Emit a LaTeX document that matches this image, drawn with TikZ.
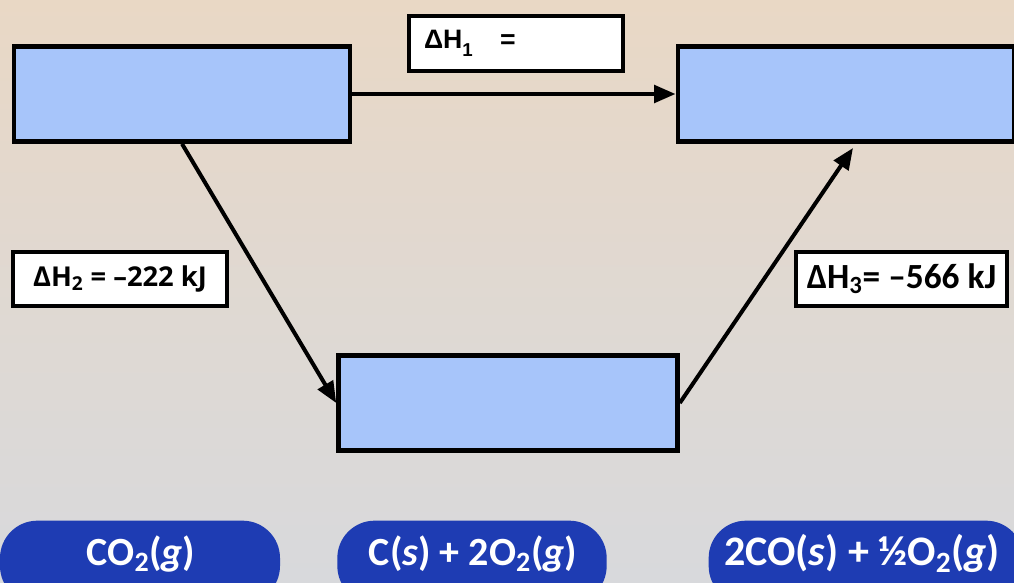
\documentclass[tikz,border=0pt]{standalone}
\usepackage{fontspec}
\setmainfont{Open Sans}
\newfontfamily\calib{Carlito}
\newfontfamily\arialf{Liberation Sans}
\usetikzlibrary{arrows.meta}
\definecolor{boxblue}{HTML}{A7C5FA}
\definecolor{pillblue}{HTML}{1E3CB3}
\definecolor{bgtop}{HTML}{E9D8C5}
\definecolor{bgbot}{HTML}{D8D9DC}
\tikzset{
  stage/.style={draw=black, line width=3.7pt, fill=boxblue, inner sep=0pt},
  lab/.style={draw=black, line width=3pt, fill=white, inner sep=0pt},
  pill/.style={fill=pillblue, rounded corners=28pt, inner sep=0pt},
  pilltext/.style={text=white, anchor=base, inner sep=0pt, font=\calib\bfseries\fontsize{30}{32}\selectfont},
  conn/.style={line width=3pt, -{Triangle[length=16pt,width=13pt]}}
}
\begin{document}
\begin{tikzpicture}[x=0.75pt,y=-0.75pt]
\useasboundingbox (0,0) rectangle (1014,582);
\clip (0,0) rectangle (1014,582);
\shade[top color=bgtop, bottom color=bgbot, middle color=bgbot!55!bgtop] (0,0) rectangle (1014,582);
% stage boxes
\node[stage, minimum width=252pt, minimum height=71pt] (A) at (182,94) {};
\node[stage, minimum width=252pt, minimum height=71pt] (B) at (846,94) {};
\node[stage, minimum width=254pt, minimum height=71pt] (C) at (508,403) {};
% label boxes
\node[lab, minimum width=160pt, minimum height=41pt, font=\arialf\bfseries\fontsize{20}{22}\selectfont, text width=138pt, align=left] (h1) at (516,43.5) {ΔH\raisebox{-0.3ex}{\textsubscript{1}}\ \ \ =};
\node[lab, minimum width=160pt, minimum height=41pt, font=\bfseries\fontsize{20.5}{22}\selectfont] (h2) at (120,279) {ΔH\textsubscript{2} = –222 kJ};
\node[lab, minimum width=158pt, minimum height=41pt, font=\calib\bfseries\fontsize{26.5}{28}\selectfont] (h3) at (901.5,279) {ΔH\textsubscript{3}= –566 kJ};
% connectors
\coordinate (bt) at (853,148);
\draw[conn] (A.east) -- (B.west);
\draw[conn] (A.south) -- (C.west);
\draw[conn] (C.east) -- (bt);
% pills
\node[pill, minimum width=210pt, minimum height=62pt] (p1) at (140,562) {};
\node[pill, minimum width=202pt, minimum height=62pt] (p2) at (472,562) {};
\node[pill, minimum width=236pt, minimum height=62pt] (p3) at (866,562) {};
\node[pilltext] (t1) at (141,565) {CO\textsubscript{2}(\textit{g})};
\node[pilltext] (t2) at (473,565) {C(\textit{s}) + 2O\textsubscript{2}(\textit{g})};
\node[pilltext, font=\calib\bfseries\fontsize{31.5}{33}\selectfont] (t3) at (862,565) {2CO(\textit{s}) + ½O\textsubscript{2}(\textit{g})};
\end{tikzpicture}
\end{document}
